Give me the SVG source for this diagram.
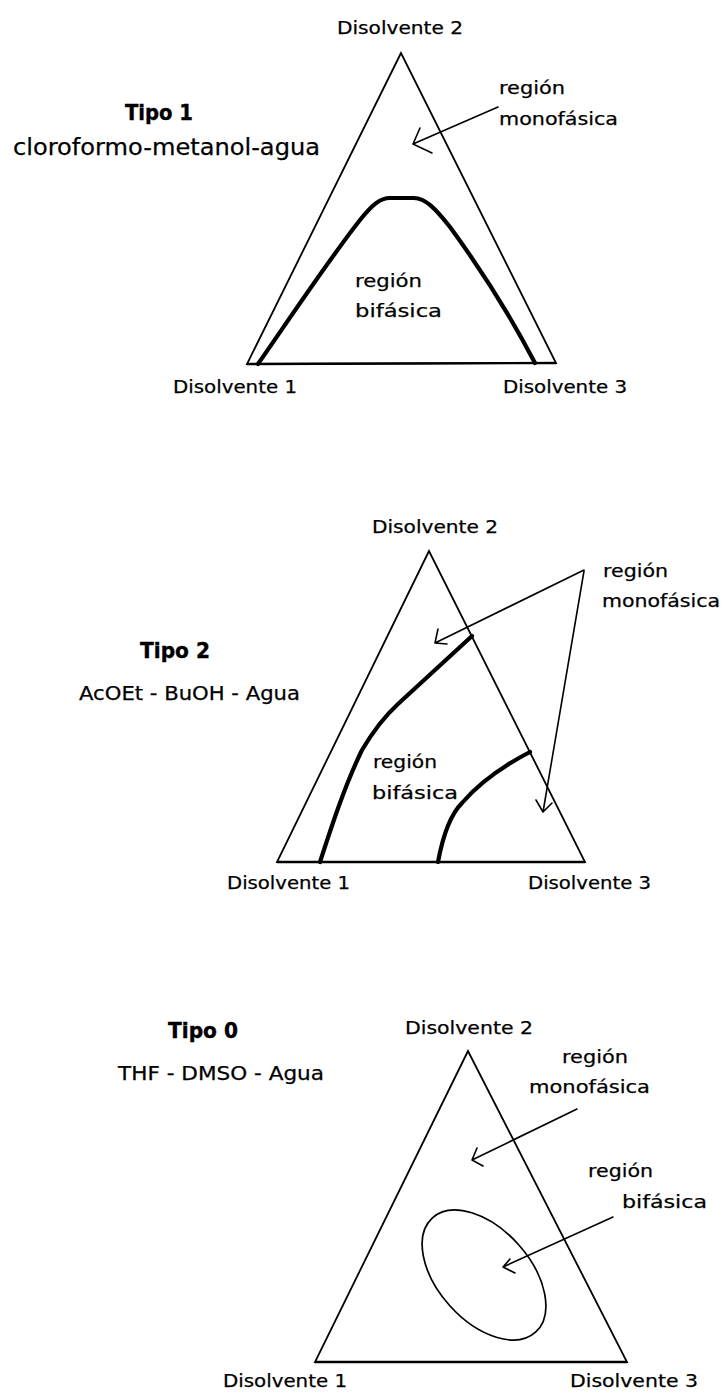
<svg xmlns="http://www.w3.org/2000/svg" width="724" height="1393" viewBox="0 0 724 1393">
<style>
  text { font-family: "DejaVu Sans", "Liberation Sans", sans-serif; fill: #000; stroke: #000; stroke-width: 0.25; }
  .lbl { font-size: 18px; }
  .sys { font-size: 19px; }
  .tipo { font-size: 22px; font-weight: bold; stroke-width: 0.4; }
  .tri { fill: none; stroke: #000; stroke-width: 1.8; stroke-linejoin: miter; }
  .base { fill: none; stroke: #000; stroke-width: 2.4; }
  .curve { fill: none; stroke: #000; stroke-width: 4.2; stroke-linecap: round; stroke-linejoin: round; }
  .thin { fill: none; stroke: #000; stroke-width: 1.7; }
  .arrow { fill: none; stroke: #000; stroke-width: 1.6; stroke-linecap: round; stroke-linejoin: round; }
</style>
<rect width="724" height="1393" fill="#fff"/>

<!-- ===== Diagram 1 ===== -->
<g id="d1-title">
  <text class="tipo" x="125" y="120" textLength="68" lengthAdjust="spacingAndGlyphs">Tipo 1</text>
  <text class="sys" x="13" y="155" textLength="307" lengthAdjust="spacingAndGlyphs" style="font-size:23px">cloroformo-metanol-agua</text>
</g>
<g id="d1-triangle">
  <polygon class="tri" points="401,53 247,364 556,363"/>
  <line class="base" x1="247" y1="364" x2="556" y2="363"/>
  <text class="lbl" x="337" y="34" textLength="126" lengthAdjust="spacingAndGlyphs">Disolvente 2</text>
  <text class="lbl" x="173" y="393" textLength="124" lengthAdjust="spacingAndGlyphs">Disolvente 1</text>
  <text class="lbl" x="503" y="393" textLength="124" lengthAdjust="spacingAndGlyphs">Disolvente 3</text>
</g>
<g id="d1-biphasic">
  <path class="curve" d="M258,364 C290,318 330,258 360,220 C372,205 380,198 390,198 L414,198 C425,198 435,208 450,227 C480,268 510,315 535,363"/>
  <text class="lbl" x="355" y="287" textLength="67" lengthAdjust="spacingAndGlyphs">región</text>
  <text class="lbl" x="355" y="317" textLength="87" lengthAdjust="spacingAndGlyphs">bifásica</text>
</g>
<g id="d1-monophasic">
  <text class="lbl" x="499" y="94" textLength="66" lengthAdjust="spacingAndGlyphs">región</text>
  <text class="lbl" x="499" y="125" textLength="119" lengthAdjust="spacingAndGlyphs">monofásica</text>
</g>

<!-- ===== Diagram 2 ===== -->
<g id="d2-title">
  <text class="tipo" x="140" y="658" textLength="70" lengthAdjust="spacingAndGlyphs">Tipo 2</text>
  <text class="sys" x="79" y="700" textLength="221" lengthAdjust="spacingAndGlyphs">AcOEt - BuOH - Agua</text>
</g>
<g id="d2-triangle">
  <polygon class="tri" points="429,551 277,862 585,862"/>
  <line class="base" x1="277" y1="862" x2="585" y2="862"/>
  <text class="lbl" x="372" y="533" textLength="126" lengthAdjust="spacingAndGlyphs">Disolvente 2</text>
  <text class="lbl" x="227" y="889" textLength="123" lengthAdjust="spacingAndGlyphs">Disolvente 1</text>
  <text class="lbl" x="528" y="889" textLength="123" lengthAdjust="spacingAndGlyphs">Disolvente 3</text>
</g>
<g id="d2-biphasic">
  <path class="curve" d="M320,862 C332,825 345,785 362,750 C375,728 385,716 398,704 L472,636"/>
  <path class="curve" d="M438,862 C443,835 450,815 462,803 C480,782 505,765 530,752"/>
  <text class="lbl" x="373" y="768" textLength="64" lengthAdjust="spacingAndGlyphs">región</text>
  <text class="lbl" x="372" y="799" textLength="86" lengthAdjust="spacingAndGlyphs">bifásica</text>
</g>
<g id="d2-monophasic">
  <text class="lbl" x="603" y="577" textLength="65" lengthAdjust="spacingAndGlyphs">región</text>
  <text class="lbl" x="602" y="607" textLength="118" lengthAdjust="spacingAndGlyphs">monofásica</text>
</g>

<!-- ===== Diagram 3 ===== -->
<g id="d3-title">
  <text class="tipo" x="168" y="1038" textLength="70" lengthAdjust="spacingAndGlyphs">Tipo 0</text>
  <text class="sys" x="118" y="1080" textLength="206" lengthAdjust="spacingAndGlyphs">THF - DMSO - Agua</text>
</g>
<g id="d3-triangle">
  <polygon class="tri" points="468,1051 315,1362 627,1362"/>
  <line class="base" x1="315" y1="1362" x2="627" y2="1362"/>
  <text class="lbl" x="405" y="1034" textLength="128" lengthAdjust="spacingAndGlyphs">Disolvente 2</text>
  <text class="lbl" x="223" y="1387" textLength="124" lengthAdjust="spacingAndGlyphs">Disolvente 1</text>
  <text class="lbl" x="570" y="1387" textLength="128" lengthAdjust="spacingAndGlyphs">Disolvente 3</text>
</g>
<g id="d3-biphasic">
  <ellipse class="thin" cx="484" cy="1275" rx="77" ry="46" transform="rotate(48 484 1275)"/>
  <text class="lbl" x="588" y="1177" textLength="65" lengthAdjust="spacingAndGlyphs">región</text>
  <text class="lbl" x="622" y="1208" textLength="85" lengthAdjust="spacingAndGlyphs">bifásica</text>
</g>
<g id="d3-monophasic">
  <text class="lbl" x="562" y="1063" textLength="66" lengthAdjust="spacingAndGlyphs">región</text>
  <text class="lbl" x="529" y="1093" textLength="121" lengthAdjust="spacingAndGlyphs">monofásica</text>
</g>

<!-- ===== Connectors ===== -->
<g id="connectors">
  <path class="arrow" d="M498,107 L413,144 M420,128 L413,144 L432,153"/>
  <path class="arrow" d="M584,570 L435,643 M438,629 L435,643 L447,644"/>
  <path class="arrow" d="M584,571 L543,812 M536,800 L543,812 L552,803"/>
  <path class="arrow" d="M577,1109 L472,1160 M477,1148 L472,1160 L483,1166"/>
  <path class="arrow" d="M613,1217 L503,1267 M510,1259 L503,1267 L515,1273"/>
</g>
</svg>
